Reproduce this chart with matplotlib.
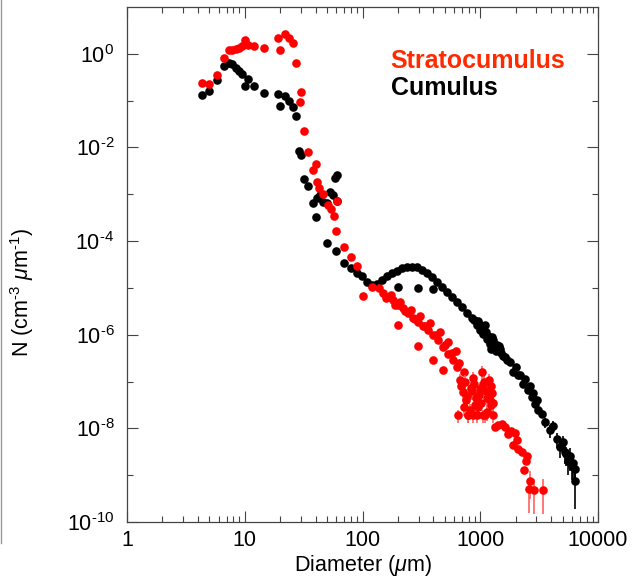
import numpy as np
import matplotlib.pyplot as plt
from matplotlib.ticker import FixedLocator, NullFormatter
from matplotlib.lines import Line2D

plt.rcParams['font.family'] = ['Liberation Sans', 'DejaVu Sans']
plt.rcParams['mathtext.fontset'] = 'custom'
plt.rcParams['mathtext.rm'] = 'Liberation Sans'
plt.rcParams['mathtext.it'] = 'Liberation Sans:italic'

# size distributions, stored as log10(diameter in um) and log10(N in cm-3 um-1)
cu_logd = [0.635, 0.699, 0.767, 0.826, 0.866, 0.895, 0.923, 0.951, 0.979, 1.002,
           1.030, 1.081, 1.166, 1.280, 1.300, 1.342, 1.378, 1.408, 1.435, 1.463,
           1.477, 1.503, 1.540, 1.582, 1.603, 1.611, 1.639, 1.668, 1.696, 1.696,
           1.724, 1.747, 1.767, 1.786, 1.786, 1.775, 1.845, 1.902, 1.951, 1.998,
           2.035, 2.079, 2.121, 2.163, 2.205, 2.248, 2.290, 2.333, 2.376, 2.418,
           2.460, 2.503, 2.545, 2.588, 2.630, 2.673, 2.715, 2.757, 2.800, 2.843,
           2.885, 2.927, 2.970, 3.026, 3.083, 3.140, 3.210, 3.253, 3.281, 3.323,
           3.366, 3.409, 3.437, 3.465, 3.493,
           2.304, 2.474, 2.601,
           2.98, 3.00, 3.04, 3.05, 3.06, 3.09, 3.10, 3.12, 3.13, 3.16, 3.18,
           2.95, 2.99, 3.01, 3.03, 3.07, 3.08, 3.11, 3.14, 3.15, 3.17, 3.19,
           3.23, 3.30, 3.34, 3.38, 3.42, 3.45, 3.48]
cu_logn = [-0.871, -0.801, -0.565, -0.251, -0.193, -0.214, -0.300, -0.373, -0.428, -0.679,
           -0.535, -0.694, -0.835, -0.850, -1.107, -0.893, -1.015, -1.135, -1.336, -2.086,
           -2.156, -2.677, -2.820, -3.178, -3.490, -3.084, -3.013, -3.156, -3.178, -4.047,
           -2.942, -3.013, -2.655, -2.585, -3.141, -4.206, -4.462, -4.582, -4.677, -4.747,
           -4.869, -4.940, -4.919, -4.833, -4.747, -4.677, -4.634, -4.582, -4.548, -4.548,
           -4.561, -4.619, -4.689, -4.775, -4.869, -4.976, -5.083, -5.191, -5.298, -5.405,
           -5.546, -5.653, -5.796, -5.974, -6.188, -6.295, -6.475, -6.582, -6.797, -6.867,
           -7.045, -7.188, -7.332, -7.473, -7.617,
           -4.976, -5.011, -5.032,
           -5.70, -5.90, -5.80, -5.95, -6.10, -6.30, -6.05, -6.20, -6.35, -6.25, -6.40,
           -5.68, -5.78, -5.85, -5.92, -6.02, -6.15, -6.12, -6.22, -6.33, -6.30, -6.45,
           -6.55, -6.70, -6.85, -6.95, -7.10, -7.25, -7.40]

# cumulus points with error bars (relative error)
cu_bar_logd = [3.521, 3.550, 3.592, 3.649, 3.677, 3.720, 3.748, 3.776, 3.805, 3.805,
               3.62, 3.70, 3.73, 3.76, 3.79]
cu_bar_logn = [-7.687, -7.867, -8.045, -8.223, -8.402, -8.509, -8.687, -8.794, -8.865, -9.115,
               -7.95, -8.30, -8.55, -8.60, -8.75]
cu_bar_rel = [0.2, 0.25, 0.3, 0.35, 0.4, 0.45, 0.5, 0.5, 0.55, 0.75,
              0.3, 0.4, 0.45, 0.5, 0.55]

sc_logd = [0.635, 0.699, 0.762, 0.826, 0.866, 0.895, 0.923, 0.951, 0.979, 1.002,
           1.030, 1.081, 1.166, 1.280, 1.300, 1.342, 1.378, 1.408, 1.435, 1.469,
           1.477, 1.506, 1.540, 1.577, 1.603, 1.611, 1.633, 1.668, 1.705, 1.732,
           1.758, 1.781, 1.775, 1.845, 1.902, 1.951, 2.000, 2.079, 2.142, 2.177,
           2.219, 2.262, 2.304, 2.346, 2.390, 2.432, 2.474, 2.516, 2.559, 2.601,
           2.644, 2.687, 2.729, 2.771, 2.800,
           2.304, 2.474, 2.601, 2.687,
           2.20, 2.28, 2.36, 2.45, 2.53, 2.62, 2.70, 2.76, 2.82, 2.86,
           2.24, 2.32, 2.41, 2.49, 2.57, 2.66, 2.73, 2.79,
           3.125, 3.182, 3.210, 3.238, 3.281, 3.295, 3.323, 3.352, 3.389, 3.374,
           3.15, 3.26, 3.31, 3.40]
sc_logn = [-0.621, -0.642, -0.443, -0.086, 0.071, 0.092, 0.113, 0.128, 0.163, 0.291,
           0.199, 0.163, 0.128, 0.343, 0.077, 0.413, 0.343, 0.236, -0.193, -1.028,
           -0.814, -1.657, -2.107, -2.477, -2.355, -2.728, -2.857, -2.991, -3.227, -3.319,
           -3.463, -3.141, -3.784, -4.120, -4.347, -4.540, -5.176, -4.976, -5.011, -5.118,
           -5.191, -5.261, -5.368, -5.439, -5.546, -5.653, -5.726, -5.818, -5.904, -6.011,
           -6.118, -6.261, -6.402, -6.546, -6.689,
           -5.796, -6.246, -6.546, -6.760,
           -5.22, -5.36, -5.50, -5.66, -5.82, -6.00, -6.22, -6.40, -6.60, -6.80,
           -5.16, -5.30, -5.48, -5.60, -5.75, -5.95, -6.15, -6.35,
           -7.975, -7.902, -7.975, -8.116, -8.366, -8.103, -8.437, -8.509, -8.687, -8.887,
           -7.93, -8.05, -8.25, -8.60]

# stratocumulus points with error bars (relative error)
sc_bar_logd = [2.828, 2.853, 2.879, 2.896, 2.921, 2.941, 2.955, 2.972, 2.990, 3.012,
               3.023, 3.041, 3.057, 3.074, 3.092, 3.100, 3.110, 2.811,
               2.84, 2.86, 2.87, 2.89, 2.91, 2.93, 2.95, 2.96, 2.98, 3.00,
               3.01, 3.03, 3.05, 3.06, 3.08, 3.09, 3.11, 2.90, 2.94, 3.02,
               3.422, 3.416, 3.459, 3.535]
sc_bar_logn = [-6.974, -7.231, -7.402, -7.724, -7.146, -6.931, -7.510, -7.724, -7.296, -6.797,
               -7.082, -7.724, -7.360, -6.974, -7.510, -7.253, -7.724, -7.724,
               -7.10, -7.55, -7.00, -7.30, -7.60, -7.20, -7.05, -7.35, -7.55, -7.15,
               -7.45, -7.00, -7.20, -7.65, -7.40, -7.10, -7.45, -7.72, -7.72, -7.72,
               -9.115, -9.294, -9.315, -9.315]
sc_bar_rel = [0.35, 0.35, 0.35, 0.3, 0.35, 0.35, 0.35, 0.3, 0.35, 0.35,
              0.35, 0.3, 0.35, 0.35, 0.35, 0.35, 0.3, 0.3,
              0.35, 0.35, 0.35, 0.35, 0.35, 0.35, 0.35, 0.35, 0.35, 0.35,
              0.35, 0.35, 0.35, 0.35, 0.35, 0.35, 0.35, 0.3, 0.3, 0.3,
              0.6, 0.7, 0.7, 0.7]

red = '#ff0000'
ms = 6.2

fig = plt.figure(figsize=(6.32, 5.77), dpi=100)
ax = fig.add_axes([127/632, 55/577, 471/632, 515/577])

ax.plot(10**np.array(cu_logd), 10**np.array(cu_logn), 'o', color='black',
        markersize=ms, markeredgewidth=0)
y = 10**np.array(cu_bar_logn)
ax.errorbar(10**np.array(cu_bar_logd), y, yerr=np.array(cu_bar_rel) * y, fmt='o',
            color='black', markersize=ms, markeredgewidth=0, elinewidth=1.2, capsize=0)

ax.plot(10**np.array(sc_logd), 10**np.array(sc_logn), 'o', color=red,
        markersize=ms, markeredgewidth=0)
y = 10**np.array(sc_bar_logn)
ax.errorbar(10**np.array(sc_bar_logd), y, yerr=np.array(sc_bar_rel) * y, fmt='o',
            color=red, ecolor='#ff6060', markersize=ms, markeredgewidth=0,
            elinewidth=1.2, capsize=0)

ax.set_xscale('log')
ax.set_yscale('log')
ax.set_xlim(1, 10000)
ax.set_ylim(1e-10, 1e1)

ax.xaxis.set_major_locator(FixedLocator([1, 10, 100, 1000, 10000]))
ax.set_xticklabels(['1', '10', '100', '1000', '10000'])
ax.xaxis.set_minor_locator(FixedLocator([m * 10**e for e in range(4) for m in range(2, 10)]))
ax.xaxis.set_minor_formatter(NullFormatter())

# short hyphen in the exponents
ax.yaxis.set_major_locator(FixedLocator([10.0**e for e in range(0, -11, -2)]))
ax.set_yticklabels([r'$\mathregular{10^{%s}}$' % str(e).replace('-', '\u2010')
                    for e in range(0, -11, -2)])
ax.yaxis.set_minor_locator(FixedLocator([10.0**e for e in range(-1, -11, -2)]))
ax.yaxis.set_minor_formatter(NullFormatter())

ax.tick_params(which='both', direction='in', top=True, right=True,
               color='#444444', width=0.8, labelsize=15.5)
ax.tick_params(which='major', length=8)
ax.tick_params(which='minor', length=4.5)
ax.tick_params(axis='y', pad=9)
ax.tick_params(axis='x', pad=6)
for s in ax.spines.values():
    s.set_color('#444444')
    s.set_linewidth(0.9)

ax.set_xlabel(r'Diameter ($\mu$m)', fontsize=15.5, labelpad=1)
ax.set_ylabel('N (cm$^{\u20103}$ $\\mu$m$^{\u20101}$)', fontsize=15.5)
ax.yaxis.set_label_coords(-0.193, 0.445)

ax.text(0.56, 0.895, 'Stratocumulus', transform=ax.transAxes, color='#ff2a00',
        fontsize=18, fontweight='bold', va='center', ha='left')
ax.text(0.56, 0.843, 'Cumulus', transform=ax.transAxes, color='black',
        fontsize=18, fontweight='bold', va='center', ha='left')

fig.add_artist(Line2D([0.002, 0.002], [1, 1 - 543/577], transform=fig.transFigure,
                      color='#999999', linewidth=1))

fig.savefig('out.png', dpi=100)
